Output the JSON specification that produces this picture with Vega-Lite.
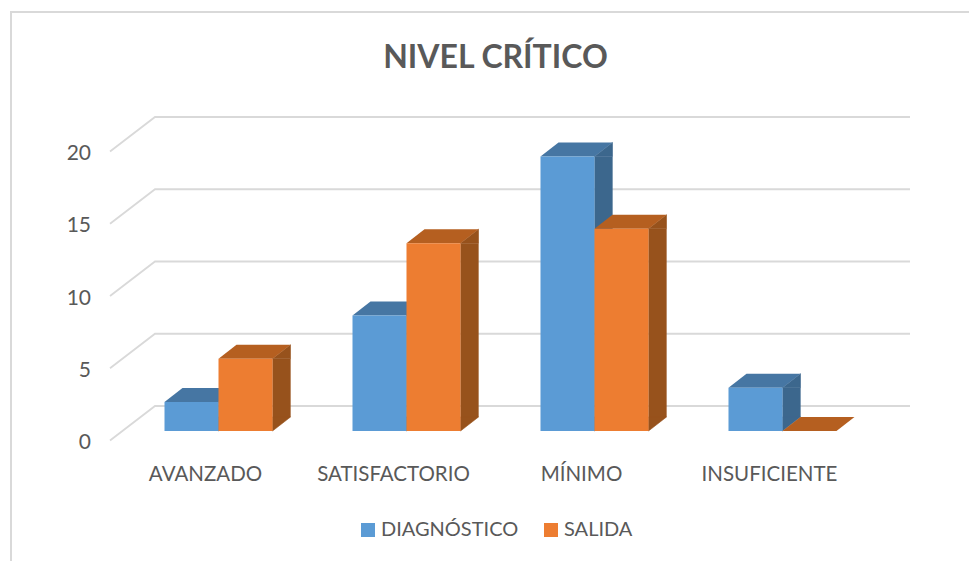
{
"$schema":"https://vega.github.io/schema/vega-lite/v6.json",
"width":752,"height":289,
"autosize":{"type":"none"},
"padding":{"left":124.5,"top":142,"right":92.5,"bottom":130},
"background":"white",
"view":{"stroke":null},
"config":{"font":"Lato"},
"title":{"text":"NIVEL CRÍTICO","font":"Lato","fontSize":32,"fontWeight":"bold","color":"#595959","anchor":"middle","dx":-5,"offset":-67},
"datasets":{
"barras":[
{"nivel":"AVANZADO","serie":"DIAGNÓSTICO","valor":2},
{"nivel":"AVANZADO","serie":"SALIDA","valor":5},
{"nivel":"SATISFACTORIO","serie":"DIAGNÓSTICO","valor":8},
{"nivel":"SATISFACTORIO","serie":"SALIDA","valor":13},
{"nivel":"MÍNIMO","serie":"DIAGNÓSTICO","valor":19},
{"nivel":"MÍNIMO","serie":"SALIDA","valor":14},
{"nivel":"INSUFICIENTE","serie":"DIAGNÓSTICO","valor":3},
{"nivel":"INSUFICIENTE","serie":"SALIDA","valor":0}
],
"marcas":[{"tick":0},{"tick":5},{"tick":10},{"tick":15},{"tick":20}]
},
"encoding":{
"x":{"field":"nivel","type":"nominal","sort":["AVANZADO","SATISFACTORIO","MÍNIMO","INSUFICIENTE"],
"scale":{"domain":["AVANZADO","SATISFACTORIO","MÍNIMO","INSUFICIENTE"],"paddingInner":0.4255,"paddingOuter":0.2128},
"axis":{"title":null,"domain":false,"ticks":false,"labelAngle":0,"labelFont":"Lato","labelFontSize":20.5,"labelColor":"#595959","labelPadding":33,"labelOffset":-13,"grid":false}},
"xOffset":{"field":"serie","type":"nominal","sort":["DIAGNÓSTICO","SALIDA"],"scale":{"domain":["DIAGNÓSTICO","SALIDA"],"paddingInner":0,"paddingOuter":0}},
"y":{"field":"valor","type":"quantitative","scale":{"domain":[0,20],"nice":false},
"axis":{"title":null,"values":[0,5,10,15,20],"domain":false,"ticks":false,"grid":false,"labelFont":"Lato","labelFontSize":21,"labelColor":"#595959","labelPadding":34,"labelOffset":11.5}}
},
"layer":[
{"data":{"values":[{"marco":0}]},
"mark":{"type":"point","shape":"M-207.5,130 L-207.5,-419 L750.5,-419","size":4,"filled":false,"stroke":"#d9d9d9","strokeWidth":2,"opacity":1},
"encoding":{"x":{"datum":"AVANZADO","type":"nominal"},"y":{"field":"marco","type":"quantitative"},"xOffset":null}},
{"data":{"name":"marcas"},
"mark":{"type":"point","shape":"M-108.5,9.5 L-63.5,-25 H691.5","size":4,"filled":false,"stroke":"#d9d9d9","strokeWidth":1.8,"opacity":1},
"encoding":{"x":{"datum":"AVANZADO","type":"nominal"},"y":{"field":"tick","type":"quantitative"},"xOffset":null}},

{"data":{"name":"barras"},"transform":[{"filter":"datum.serie==='DIAGNÓSTICO' && datum.valor>0"}],
"mark":{"type":"bar","width":18.3,"xOffset":9,"y2Offset":-14,"fill":"#3c678d"},"encoding":{"y2":{"datum":0},"xOffset":null}},
{"data":{"name":"barras"},"transform":[{"filter":"datum.serie==='DIAGNÓSTICO' && datum.valor>0"}],
"mark":{"type":"point","shape":"M27,0 L45,-14 V0 Z","size":4,"filled":true,"fill":"#3c678d","stroke":"#3c678d","strokeWidth":0.6,"opacity":1}},
{"data":{"name":"barras"},"transform":[{"filter":"datum.serie==='DIAGNÓSTICO' && datum.valor>0"}],
"mark":{"type":"point","shape":"M27,0 L45,-14 H27 Z","size":4,"filled":true,"fill":"#3c678d","stroke":"#3c678d","strokeWidth":0.6,"opacity":1},"encoding":{"y":{"datum":0,"type":"quantitative"}}},
{"data":{"name":"barras"},"transform":[{"filter":"datum.serie==='DIAGNÓSTICO'"}],
"mark":{"type":"point","shape":"M-27,0 L-9,-14 H45 L27,0 Z","size":4,"filled":true,"fill":"#4676a3","opacity":1}},
{"data":{"name":"barras"},"transform":[{"filter":"datum.serie==='DIAGNÓSTICO'"}],
"mark":{"type":"bar"},
"encoding":{"y2":{"datum":0},"color":{"field":"serie","type":"nominal","sort":["DIAGNÓSTICO","SALIDA"],"scale":{"domain":["DIAGNÓSTICO","SALIDA"],"range":["#5b9bd5","#ed7d31"]},
"legend":{"title":null,"orient":"none","legendX":233.5,"legendY":378,"direction":"horizontal","symbolType":"square","symbolSize":196,"symbolStrokeWidth":0,"symbolOpacity":1,"labelFont":"Lato","labelFontSize":20,"labelColor":"#595959","labelOffset":3,"columnPadding":22}}}},

{"data":{"name":"barras"},"transform":[{"filter":"datum.serie==='SALIDA' && datum.valor>0"}],
"mark":{"type":"bar","width":18.3,"xOffset":63,"y2Offset":-14,"fill":"#97521c"},"encoding":{"y2":{"datum":0},"xOffset":null}},
{"data":{"name":"barras"},"transform":[{"filter":"datum.serie==='SALIDA' && datum.valor>0"}],
"mark":{"type":"point","shape":"M27,0 L45,-14 V0 Z","size":4,"filled":true,"fill":"#97521c","stroke":"#97521c","strokeWidth":0.6,"opacity":1}},
{"data":{"name":"barras"},"transform":[{"filter":"datum.serie==='SALIDA' && datum.valor>0"}],
"mark":{"type":"point","shape":"M27,0 L45,-14 H27 Z","size":4,"filled":true,"fill":"#97521c","stroke":"#97521c","strokeWidth":0.6,"opacity":1},"encoding":{"y":{"datum":0,"type":"quantitative"}}},
{"data":{"name":"barras"},"transform":[{"filter":"datum.serie==='SALIDA'"}],
"mark":{"type":"point","shape":"M-27,0 L-9,-14 H45 L27,0 Z","size":4,"filled":true,"fill":"#b55f20","opacity":1}},
{"data":{"name":"barras"},"transform":[{"filter":"datum.serie==='SALIDA'"}],
"mark":{"type":"bar"},
"encoding":{"y2":{"datum":0},"color":{"field":"serie","type":"nominal","sort":["DIAGNÓSTICO","SALIDA"],"scale":{"domain":["DIAGNÓSTICO","SALIDA"],"range":["#5b9bd5","#ed7d31"]}}}}
]
}
